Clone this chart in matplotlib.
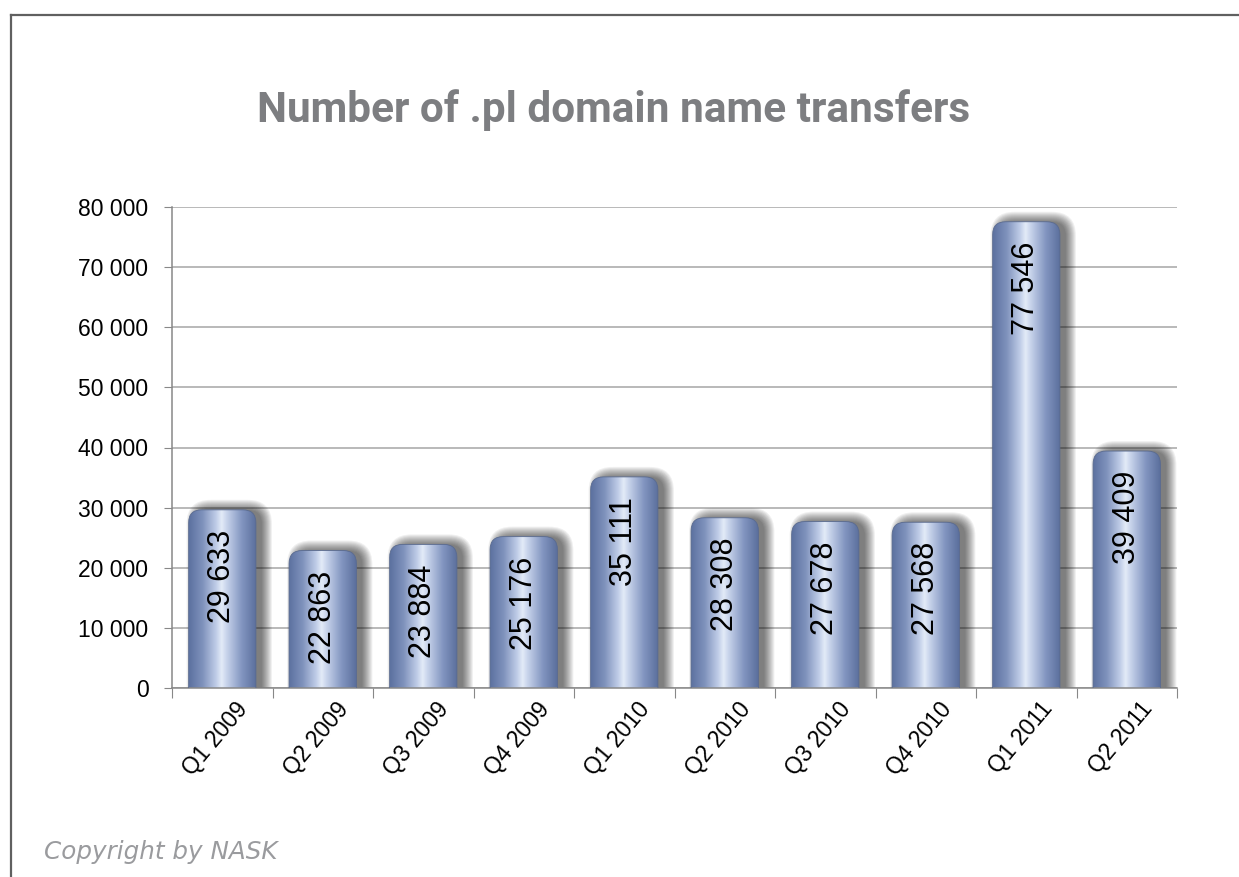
import matplotlib
matplotlib.use("Agg")
import matplotlib.pyplot as plt
import numpy as np
from matplotlib.patches import FancyBboxPatch
from matplotlib.colors import LinearSegmentedColormap
from matplotlib.lines import Line2D
import matplotlib.transforms as mtransforms

# ---- data ----
categories = ["Q1 2009", "Q2 2009", "Q3 2009", "Q4 2009", "Q1 2010",
              "Q2 2010", "Q3 2010", "Q4 2010", "Q1 2011", "Q2 2011"]
values = [29633, 22863, 23884, 25176, 35111, 28308, 27678, 27568, 77546, 39409]
value_labels = ["29 633", "22 863", "23 884", "25 176", "35 111",
                "28 308", "27 678", "27 568", "77 546", "39 409"]
y_ticks = [0, 10000, 20000, 30000, 40000, 50000, 60000, 70000, 80000]
y_tick_labels = ["0", "10 000", "20 000", "30 000", "40 000",
                 "50 000", "60 000", "70 000", "80 000"]
title = "Number of .pl domain name transfers"
copyright_text = "Copyright by NASK"

# ---- layout ----
W, H = 1239, 877
fig = plt.figure(figsize=(W / 100, H / 100), dpi=100)
fig.patch.set_facecolor("white")
L, R, B, T = 172, 1177, 688, 207
ax = fig.add_axes([L / W, 1 - B / H, (R - L) / W, (B - T) / H])
ymax = 80000
n = len(categories)
xpx = (R - L) / n          # px per x unit
ypx = (B - T) / ymax       # px per y unit
asp = xpx / ypx            # mutation aspect

bar_w = 0.67
rad_px = 13

cmap = LinearSegmentedColormap.from_list("cyl", [
    (0.00, "#5c71a0"),
    (0.20, "#7f92bc"),
    (0.40, "#c0cde8"),
    (0.48, "#e3ebf8"),
    (0.56, "#c6d2ea"),
    (0.78, "#8295c0"),
    (1.00, "#596d9b"),
])
grad = np.linspace(0, 1, 256).reshape(1, -1)

for i, v in enumerate(values):
    x0 = i - bar_w / 2
    # soft shadow, mostly to the right
    for k in range(1, 12):
        sh = FancyBboxPatch((x0 + 9 / xpx, -4000), bar_w - 4 / xpx, v + 4000 - 1 / ypx,
                            boxstyle=f"round,pad={k / xpx},rounding_size={(rad_px + k) / xpx}",
                            mutation_aspect=asp, facecolor="black", edgecolor="none",
                            alpha=0.06, zorder=1)
        ax.add_patch(sh)
    clip = FancyBboxPatch((x0, -4000), bar_w, v + 4000,
                          boxstyle=f"round,pad=0,rounding_size={rad_px / xpx}",
                          mutation_aspect=asp, facecolor="none", edgecolor="#5a6b90",
                          linewidth=0.6, zorder=3)
    ax.add_patch(clip)
    im = ax.imshow(grad, cmap=cmap, extent=[x0, x0 + bar_w, 0, v], aspect="auto",
                   zorder=2, interpolation="bilinear")
    im.set_clip_path(clip)
    ax.annotate(value_labels[i], xy=(i, v), xytext=(0, -20 * 0.72), textcoords="offset points",
                rotation=90, ha="center", va="top", fontsize=22,
                family="Liberation Sans", color="black", zorder=4)

ax.set_xlim(-0.5, n - 0.5)
ax.set_ylim(0, ymax)

# grid
ax.set_yticks(y_ticks)
ax.set_yticklabels(y_tick_labels, fontsize=16.5, family="Liberation Sans")
ax.yaxis.grid(True, color="#a6a6a6", linewidth=1.1, zorder=0)
ax.set_axisbelow(True)

ax.set_xticks(np.arange(n + 1) - 0.5)
ax.set_xticklabels([""] * (n + 1))
ax.set_xticks(np.arange(n), minor=True)
ax.set_xticklabels(categories, minor=True, rotation=50, ha="right",
                   rotation_mode="anchor", fontsize=16.5, family="Liberation Sans", va="top")
ax.tick_params(axis="x", which="minor", length=0, pad=7)
ax.tick_params(axis="x", which="major", length=7, color="#888888", direction="out")
ax.tick_params(axis="y", length=6, color="#888888", pad=11)
offset = mtransforms.ScaledTranslation(13 / 100, 0, fig.dpi_scale_trans)
for lab in ax.xaxis.get_minorticklabels():
    lab.set_transform(lab.get_transform() + offset)

for s in ["top", "right"]:
    ax.spines[s].set_visible(False)
for s in ["left", "bottom"]:
    ax.spines[s].set_color("#888888")
    ax.spines[s].set_linewidth(1.1)

# frame lines
fig.add_artist(Line2D([11 / W, 1], [1 - 15 / H, 1 - 15 / H], color="#606060", lw=1.6,
                      transform=fig.transFigure))
fig.add_artist(Line2D([11 / W, 11 / W], [0, 1 - 15 / H], color="#606060", lw=1.6,
                      transform=fig.transFigure))

r = fig.canvas.get_renderer()

# title, fitted to reference width
t = fig.text(614 / W, 1 - 110 / H, title, ha="center", va="center", fontsize=30,
             fontweight="bold", family="Roboto", color="#7d7e81")
wpx = t.get_window_extent(r).width
t.set_fontsize(30 * 712 / wpx)

c = fig.text(44 / W, 1 - 852 / H, copyright_text, ha="left", va="center", fontsize=17,
             style="italic", family="DejaVu Sans", color="#9a9b9e")
wpx = c.get_window_extent(r).width
c.set_fontsize(17 * 234 / wpx)

fig.savefig("out.png", dpi=100)
